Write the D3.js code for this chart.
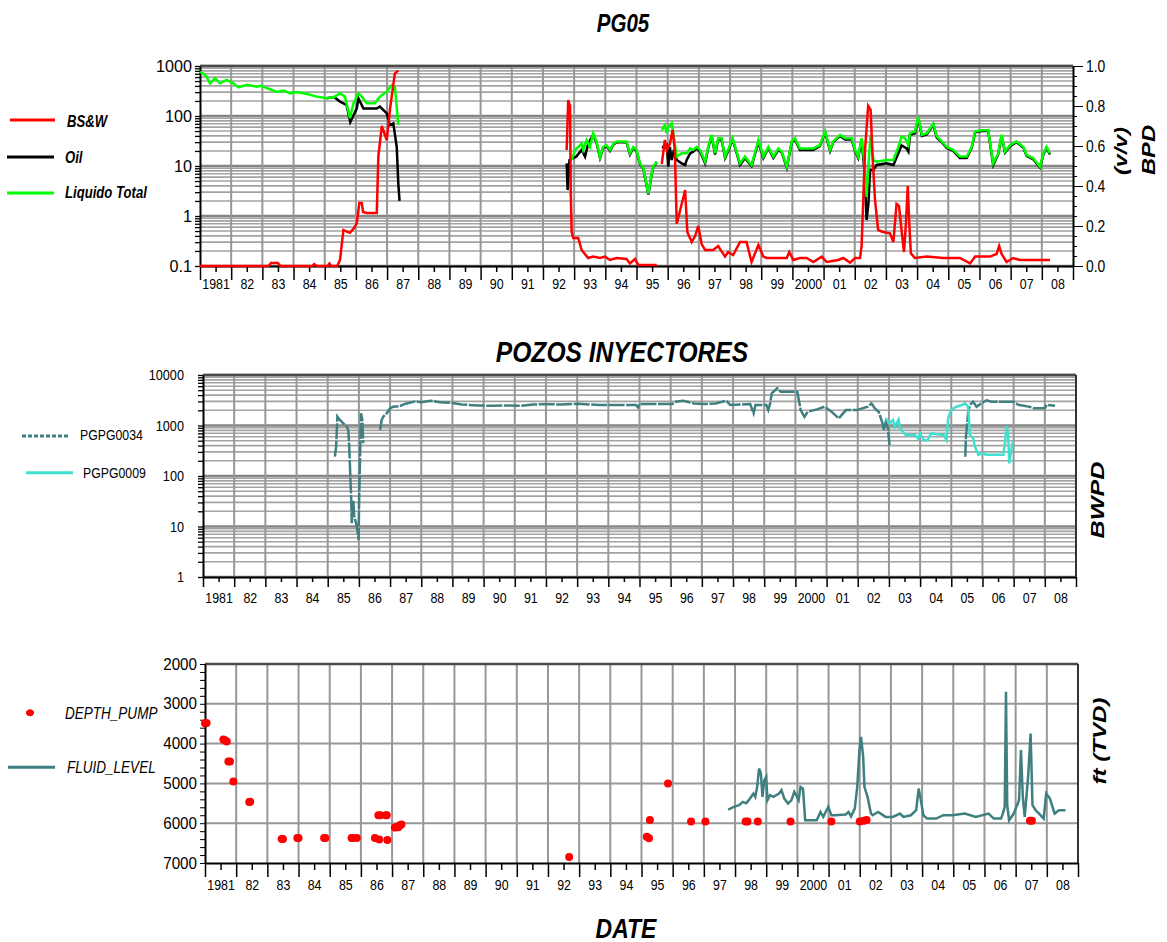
<!DOCTYPE html>
<html>
<head>
<meta charset="utf-8">
<script src="https://cdn.jsdelivr.net/npm/d3@7"></script>
<style>
  body { margin: 0; background: #fff; }
  svg text { font-family: "Liberation Sans", Arial, sans-serif; fill: #000; }
</style>
</head>
<body>
<svg id="svg" width="1167" height="942"></svg>
<script>
// ---- data ----
var yearLabels = ["1981","82","83","84","85","86","87","88","89","90","91","92","93","94",
  "95","96","97","98","99","2000","01","02","03","04","05","06","07","08"];
var yearDomain = [1981, 2009];

var p1LeftTicks = [0.1, 1, 10, 100, 1000];
var p1RightTicks = [0, 0.2, 0.4, 0.6, 0.8, 1.0];
var p2Ticks = [1, 10, 100, 1000, 10000];
var p3Ticks = [2000, 3000, 4000, 5000, 6000, 7000];

// BS&W (v/v), right axis. null = gap
var bswData = [
  [1981.00,0],[1983.20,0],[1983.28,0.015],[1983.50,0.015],[1983.58,0],[1984.60,0],[1984.66,0.01],
  [1984.76,0],[1985.10,0],[1985.15,0.012],[1985.22,0],[1985.40,0],[1985.49,0.03],[1985.60,0.18],
  [1985.81,0.166],[1985.94,0.19],[1986.03,0.215],[1986.11,0.315],[1986.19,0.315],[1986.23,0.27],
  [1986.35,0.265],[1986.67,0.265],[1986.72,0.547],[1986.83,0.70],[1986.99,0.63],[1987.09,0.78],
  [1987.25,0.963],[1987.36,0.977],
  [1990,null],
  [1992.76,0.58],[1992.81,0.83],[1992.87,0.80],[1992.89,0.38],[1992.92,0.17],[1992.97,0.14],
  [1993.13,0.14],[1993.24,0.08],[1993.45,0.04],[1993.61,0.047],[1993.83,0.04],[1993.99,0.047],
  [1994.15,0.03],[1994.36,0.04],[1994.68,0.035],[1994.79,0.013],[1994.95,0.035],[1995.06,0.005],
  [1995.65,0.005],
  [1995.7,null],
  [1995.81,0.51],[1995.91,0.63],[1995.97,0.58],[1996.07,0.61],[1996.16,0.68],[1996.23,0.58],
  [1996.29,0.21],[1996.37,0.26],[1996.56,0.38],[1996.63,0.17],[1996.77,0.12],[1996.88,0.15],
  [1996.98,0.20],[1997.09,0.11],[1997.20,0.08],[1997.46,0.08],[1997.62,0.10],[1997.84,0.047],
  [1997.94,0.07],[1998.10,0.055],[1998.32,0.12],[1998.53,0.12],[1998.69,0.02],[1998.91,0.105],
  [1999.07,0.047],[1999.17,0.04],[1999.82,0.04],[1999.90,0.07],[2000.03,0.03],[2000.24,0.04],
  [2000.46,0.04],[2000.67,0.02],[2000.94,0.047],[2001.10,0.02],[2001.47,0.03],[2001.63,0.04],
  [2001.85,0.017],[2002.01,0.04],[2002.17,0.04],[2002.22,0.10],[2002.33,0.58],[2002.43,0.80],
  [2002.51,0.78],[2002.57,0.55],[2002.65,0.33],[2002.75,0.18],[2002.91,0.17],[2003.13,0.163],
  [2003.24,0.12],[2003.34,0.31],[2003.42,0.30],[2003.50,0.18],[2003.58,0.07],[2003.64,0.21],
  [2003.70,0.40],[2003.75,0.21],[2003.80,0.063],[2003.93,0.04],[2004.31,0.047],[2004.84,0.04],
  [2005.37,0.04],[2005.70,0.013],[2005.86,0.047],[2006.34,0.047],[2006.55,0.06],[2006.63,0.10],
  [2006.71,0.06],[2006.87,0.02],[2007.08,0.04],[2007.30,0.03],[2008.26,0.03]
];

// Oil (BPD), left log axis
var oilData = [
  [1985.06,226],[1985.30,240],[1985.49,194],[1985.70,166],[1985.82,75],[1986.03,142],[1986.08,226],
  [1986.24,142],[1986.67,142],[1986.77,154],[1986.99,113],[1987.09,66],[1987.20,71],[1987.31,24],
  [1987.36,4.5],[1987.40,2.0],
  [1990,null],
  [1992.76,11.3],[1992.79,3.3],[1992.85,13.2],[1992.96,14.2],[1993.07,15.4],[1993.24,21],
  [1993.35,15.4],[1993.45,28],[1993.61,42],[1993.72,29],[1993.83,14.5],[1993.93,23],[1994.04,25],
  [1994.15,20],[1994.26,27],[1994.36,30],[1994.68,30],[1994.79,17],[1994.90,23],[1995.00,20],
  [1995.11,11],[1995.22,8.7],[1995.38,2.7],[1995.49,6.9],[1995.54,9.4],[1995.65,12],
  [1995.7,null],
  [1995.81,24],[1995.91,24],[1995.97,26],[1996.02,9.7],[1996.07,24],[1996.13,13.2],[1996.20,21],
  [1996.29,13.2],[1996.45,11.3],[1996.56,10.5],[1996.61,13.2],[1996.72,17.9],[1996.82,19.4],
  [1996.93,22.5],[1997.04,19.4],[1997.20,11.3],[1997.30,23],[1997.41,40],[1997.52,17],[1997.62,34],
  [1997.73,34],[1997.84,14.5],[1997.94,20],[1998.08,34],[1998.21,18.5],[1998.32,10.5],[1998.48,14.5],
  [1998.69,10],[1998.91,30],[1999.07,14.5],[1999.23,23],[1999.39,14.5],[1999.55,21],[1999.66,18.5],
  [1999.82,9.3],[1999.98,30],[2000.08,34],[2000.24,21],[2000.67,21],[2000.88,25],[2001.05,47],
  [2001.21,20],[2001.31,30],[2001.53,40],[2001.69,34],[2001.90,34],[2002.01,20],[2002.11,14.5],
  [2002.22,33],[2002.31,8.3],[2002.38,0.83],[2002.44,1.8],[2002.49,8.3],[2002.60,8.3],[2002.70,10.5],
  [2003.02,11.3],[2003.24,10.5],[2003.40,17.9],[2003.50,26],[2003.66,22.5],[2003.72,19.4],
  [2003.77,42],[2003.93,45],[2004.04,90],[2004.15,40],[2004.31,43],[2004.52,67],[2004.63,37],
  [2004.79,30],[2004.95,23],[2005.16,20],[2005.37,14.5],[2005.59,14.5],[2005.75,23],[2005.86,47],
  [2006.07,50],[2006.28,50],[2006.44,10.5],[2006.60,17],[2006.71,40],[2006.82,18.5],[2006.98,25],
  [2007.19,30],[2007.41,23],[2007.51,16],[2007.73,13.5],[2007.94,9.3],[2008.05,17],[2008.15,23],
  [2008.26,17]
];

// Liquido Total (BPD), left log axis
var liquidData = [
  [1981.00,770],[1981.10,700],[1981.21,612],[1981.32,450],[1981.48,567],[1981.64,450],[1981.86,525],
  [1981.96,486],[1982.07,450],[1982.23,374],[1982.50,420],[1982.82,386],[1982.95,400],[1983.14,360],
  [1983.46,307],[1983.70,320],[1983.89,284],[1984.10,300],[1984.31,284],[1984.50,270],[1984.74,244],
  [1985.06,226],[1985.30,240],[1985.49,284],[1985.65,244],[1985.81,90],[1985.92,179],[1986.08,284],
  [1986.19,244],[1986.35,179],[1986.61,179],[1986.77,244],[1986.99,307],[1987.15,417],[1987.25,386],
  [1987.36,66],
  [1990,null],
  [1992.92,13.2],[1993.03,21],[1993.13,24],[1993.24,28],[1993.29,21],[1993.40,33],[1993.51,24],
  [1993.61,45],[1993.72,31],[1993.83,15],[1993.93,24],[1994.04,26],[1994.15,21],[1994.26,28],
  [1994.36,31],[1994.68,31],[1994.79,18],[1994.90,24],[1995.00,21],[1995.11,11.3],[1995.22,9],
  [1995.38,2.8],[1995.49,7.1],[1995.54,9.7],[1995.65,12.2],
  [1995.7,null],
  [1995.81,52],[1995.91,66],[1995.97,45],[1996.02,61],[1996.13,71],[1996.18,45],[1996.29,15.4],
  [1996.45,17.9],[1996.61,17.9],[1996.72,22.5],[1996.82,21],[1996.93,24],[1997.04,21],[1997.20,12.2],
  [1997.30,24],[1997.41,42],[1997.52,17.9],[1997.62,36],[1997.73,36],[1997.84,15.4],[1997.94,21],
  [1998.08,36],[1998.21,19.4],[1998.32,11.3],[1998.48,15.4],[1998.69,10.5],[1998.91,33],[1999.07,15.4],
  [1999.23,24],[1999.39,15.4],[1999.55,22.5],[1999.66,19.4],[1999.82,9.7],[1999.98,31],[2000.08,36],
  [2000.24,22.5],[2000.67,22.5],[2000.88,26],[2001.05,49],[2001.21,21],[2001.31,31],[2001.53,42],
  [2001.69,36],[2001.90,36],[2002.01,21],[2002.11,15.4],[2002.22,36],[2002.31,11.3],[2002.38,2.4],
  [2002.47,21],[2002.51,42],[2002.60,13.2],[2002.70,12.2],[2003.02,13.2],[2003.24,13.2],[2003.40,24],
  [2003.50,39],[2003.61,36],[2003.72,26],[2003.77,45],[2003.93,49],[2004.04,97],[2004.15,42],
  [2004.31,45],[2004.52,71],[2004.63,39],[2004.79,31],[2004.95,24],[2005.16,21],[2005.37,15.4],
  [2005.59,15.4],[2005.75,24],[2005.86,49],[2006.07,52],[2006.28,52],[2006.44,11.3],[2006.60,17.9],
  [2006.71,42],[2006.82,19.4],[2006.98,26],[2007.19,31],[2007.41,24],[2007.51,16.6],[2007.73,14.2],
  [2007.94,9.7],[2008.05,17.9],[2008.15,24],[2008.26,17.9]
];

// PGPG0034 (BWPD)
var pg0034Data = [
  [1985.23,242],[1985.27,381],[1985.31,1496],[1985.39,1285],[1985.50,1104],[1985.61,948],[1985.66,815],
  [1985.69,381],[1985.71,178],[1985.75,39],[1985.77,11.6],[1985.82,33],[1985.85,15.7],[1985.91,11.6],
  [1985.95,8.5],[1985.99,5.4],[1986.01,39],[1986.04,281],[1986.07,1742],[1986.11,1285],[1986.14,444],
  [1986.4,null],
  [1986.68,815],[1986.73,1285],[1986.78,1496],[1986.89,1742],[1987.00,2188],[1987.10,2360],[1987.32,2430],
  [1987.50,2700],[1987.80,3000],[1988.00,2900],[1988.30,3100],[1988.60,2900],[1989.00,2800],[1989.30,2600],
  [1989.80,2500],[1990.30,2450],[1990.80,2500],[1991.20,2450],[1991.60,2600],[1992.00,2650],[1992.50,2600],
  [1993.00,2700],[1993.40,2600],[1993.73,2540],[1994.89,2540],[1994.95,2290],[1995.00,2660],[1996.05,2660],
  [1996.17,2960],[1996.40,3090],[1996.75,2740],[1997.10,2660],[1997.44,2740],[1997.79,3090],[1997.91,2540],
  [1998.55,2660],[1998.66,1740],[1998.72,2540],[1999.07,2540],[1999.13,2020],[1999.19,2740],[1999.24,4330],
  [1999.42,5450],[1999.53,4680],[2000.06,4680],[2000.11,3190],[2000.17,2020],[2000.29,1490],[2000.40,1875],
  [2000.69,2085],[2000.93,2355],[2001.16,1875],[2001.39,1380],[2001.62,2020],[2001.97,2020],[2002.32,2355],
  [2002.44,2740],[2002.55,2180],[2002.67,1875],[2002.78,1185],[2002.84,811],[2002.90,1185],[2002.96,944],
  [2003.02,409],
  [2004.0,null],
  [2005.45,240],[2005.47,600],[2005.51,1100],[2005.54,1860],[2005.60,2570],[2005.70,2950],[2005.81,2340],
  [2005.97,2750],[2006.13,3160],[2006.29,2950],[2006.99,2950],[2007.15,2570],[2007.52,2340],[2007.63,2190],
  [2008.00,2190],[2008.06,2570],[2008.33,2450]
];

// PGPG0009 (BWPD)
var pg0009Data = [
  [2002.90,1380],[2003.02,1100],[2003.13,1280],[2003.19,944],[2003.31,1320],[2003.36,875],[2003.54,646],
  [2003.83,646],[2003.94,555],[2004.00,697],[2004.12,513],[2004.24,513],[2004.35,697],[2004.76,646],
  [2004.85,513],[2004.90,1380],[2004.99,2020],[2005.16,2355],[2005.34,2540],[2005.44,2750],[2005.54,2340],
  [2005.60,646],[2005.70,560],[2005.76,380],[2005.81,324],[2005.87,263],[2005.97,282],[2006.13,263],
  [2006.67,263],[2006.72,447],[2006.78,977],[2006.82,708],[2006.86,178],[2006.91,282],[2006.97,479]
];

// DEPTH_PUMP (ft TVD)
var depthPumpData = [
  [1981.00,3490],[1981.05,3480],[1981.59,3900],[1981.65,3920],[1981.70,3950],[1981.75,4450],[1981.80,4450],
  [1981.91,4950],[1982.42,5470],[1982.45,5460],[1983.46,6400],[1983.50,6400],[1983.96,6370],[1984.00,6370],
  [1984.82,6370],[1984.86,6370],[1985.70,6370],[1985.74,6370],[1985.87,6370],[1986.45,6370],[1986.59,6410],
  [1986.56,5800],[1986.62,5800],[1986.80,5800],[1986.83,5800],[1986.85,6420],[1987.09,6110],[1987.15,6100],
  [1987.20,6100],[1987.25,6050],[1987.30,6030],[1992.68,6850],[1995.17,6340],[1995.24,6380],[1995.27,5920],
  [1995.85,5000],[1996.59,5960],[1997.05,5960],[1998.34,5960],[1998.40,5960],[1998.73,5960],[1999.78,5960],
  [2001.09,5960],[2002.00,5960],[2002.13,5940],[2002.22,5920],[2007.46,5940],[2007.52,5940]
];

// FLUID_LEVEL (ft TVD)
var fluidLevelData = [
  [1997.78,5658],[1997.96,5590],[1998.13,5549],[1998.25,5465],[1998.36,5500],[1998.48,5381],[1998.59,5255],
  [1998.65,5340],[1998.71,5087],[1998.77,4626],[1998.83,4752],[1998.88,5339],[1998.94,4919],[1999.00,4835],
  [1999.04,5423],[1999.12,5297],[1999.23,5340],[1999.41,5255],[1999.49,5171],[1999.58,5381],[1999.70,5507],
  [1999.81,5420],[1999.90,5213],[1999.99,5340],[2000.04,5420],[2000.10,5087],[2000.18,5130],[2000.25,5926],
  [2000.62,5926],[2000.74,5716],[2000.83,5840],[2000.99,5590],[2001.09,5800],[2001.20,5800],[2001.55,5780],
  [2001.64,5716],[2001.72,5830],[2001.84,5632],[2001.92,5087],[2001.99,4164],[2002.04,3829],[2002.11,4332],
  [2002.15,5087],[2002.25,5339],[2002.36,5758],[2002.42,5800],[2002.50,5758],[2002.59,5716],[2002.83,5842],
  [2003.06,5842],[2003.29,5758],[2003.40,5842],[2003.64,5800],[2003.81,5674],[2003.89,5129],[2003.96,5420],
  [2004.04,5800],[2004.16,5884],[2004.45,5884],[2004.68,5800],[2004.97,5800],[2005.37,5758],[2005.72,5842],
  [2006.13,5758],[2006.30,5884],[2006.53,5884],[2006.59,5758],[2006.65,5590],[2006.69,2696],[2006.73,5549],
  [2006.79,5926],[2006.94,5758],[2007.11,5423],[2007.17,4164],[2007.23,5340],[2007.29,5842],[2007.40,4835],
  [2007.48,3745],[2007.54,5549],[2007.64,5674],[2007.75,5758],[2007.90,5884],[2007.98,5255],[2008.10,5381],
  [2008.25,5758],[2008.39,5674],[2008.60,5674]
];

// ---- drawing ----
var svg = d3.select("#svg");
var gridColor = "#979797";
var teal = "#3f7f80";
var turquoise = "#40e0d0";
var NARROW = 0.82; // the reference fonts look horizontally squeezed

function isDecade(d) {
  var l = Math.log10(d);
  return Math.abs(l - Math.round(l)) < 1e-6;
}

// plain text with a horizontal squeeze
function addText(x, y, str, size, sx, anchor, weight, style) {
  return svg.append("text")
    .attr("transform", "translate(" + x + "," + y + ") scale(" + sx + ",1)")
    .attr("text-anchor", anchor || "start")
    .attr("font-size", size)
    .attr("font-weight", weight || "normal")
    .attr("font-style", style || "normal")
    .text(str);
}

function squeezeTicks(ax, sx, size) {
  ax.selectAll(".tick text").attr("font-size", size).each(function() {
    var t = d3.select(this);
    var x = +t.attr("x") || 0;
    t.attr("x", x / sx).attr("transform", "scale(" + sx + ",1)");
  });
}

function drawYearAxis(box, x, majorLen, minorLen, pad) {
  var majors = d3.range(yearDomain[0], yearDomain[1] + 1);
  var mids = yearLabels.map(function(d, i) { return yearDomain[0] + i + 0.5; });

  // vertical grid at year boundaries
  svg.append("g").selectAll("line").data(majors.slice(1, -1)).join("line")
    .attr("x1", function(d) { return x(d); }).attr("x2", function(d) { return x(d); })
    .attr("y1", box.y0).attr("y2", box.y1)
    .attr("stroke", gridColor).attr("stroke-width", 2);

  var ax = svg.append("g").attr("transform", "translate(0," + box.y1 + ")");
  ax.call(d3.axisBottom(x).tickValues(majors).tickSize(majorLen).tickSizeOuter(0).tickFormat(""));
  ax.select(".domain").attr("stroke-width", 2);
  ax.selectAll(".tick line").attr("stroke-width", 1.5);

  var ax2 = svg.append("g").attr("transform", "translate(0," + box.y1 + ")");
  ax2.call(d3.axisBottom(x).tickValues(mids).tickSize(minorLen).tickPadding(pad)
    .tickFormat(function(d, i) { return yearLabels[i]; }));
  ax2.select(".domain").remove();
  ax2.selectAll(".tick line").attr("stroke-width", 1.5);
  squeezeTicks(ax2, 0.8, 15.5);
}

function drawLogGrid(box, y) {
  svg.append("g").selectAll("line").data(y.ticks()).join("line")
    .attr("x1", box.x0).attr("x2", box.x1)
    .attr("y1", function(d) { return y(d); }).attr("y2", function(d) { return y(d); })
    .attr("stroke", function(d) { return isDecade(d) ? "#858585" : "#a3a3a3"; })
    .attr("stroke-width", function(d) { return isDecade(d) ? 2.5 : 1.6; });
}

function drawFrame(box, withRight) {
  svg.append("line").attr("x1", box.x0).attr("x2", box.x1).attr("y1", box.y0).attr("y2", box.y0)
    .attr("stroke", "#4a4a4a").attr("stroke-width", 2.5);
  if (withRight) {
    svg.append("line").attr("x1", box.x1).attr("x2", box.x1).attr("y1", box.y0).attr("y2", box.y1)
      .attr("stroke", "#333").attr("stroke-width", 2);
  }
}

function drawLogLeftAxis(box, y, pad, fontSize, sx) {
  var ax = svg.append("g").attr("transform", "translate(" + box.x0 + ",0)");
  ax.call(d3.axisLeft(y).tickValues(y.ticks()).tickSize(5).tickSizeOuter(0).tickPadding(pad)
    .tickFormat(function(d) { return isDecade(d) ? String(+d.toPrecision(3)) : ""; }));
  ax.select(".domain").attr("stroke-width", 2);
  ax.selectAll(".tick line").attr("stroke-width", 1.3);
  squeezeTicks(ax, sx, fontSize);
}

function legendLine(x1, x2, yy, color, dash) {
  svg.append("line").attr("x1", x1).attr("x2", x2).attr("y1", yy).attr("y2", yy)
    .attr("stroke", color).attr("stroke-width", 3).attr("stroke-dasharray", dash || null);
}

function rotatedLabel(cx, cy, label, size, len) {
  svg.append("text")
    .attr("transform", "translate(" + cx + "," + cy + ") rotate(-90)")
    .attr("text-anchor", "middle").attr("dy", "0.35em")
    .attr("font-size", size).attr("font-weight", "bold").attr("font-style", "italic")
    .attr("textLength", len).attr("lengthAdjust", "spacingAndGlyphs")
    .text(label);
}

// ===== Panel 1: PG05 =====
var box1 = { x0: 200, x1: 1073, y0: 66, y1: 266 };
var x1 = d3.scaleLinear().domain(yearDomain).range([box1.x0, box1.x1]);
var y1 = d3.scaleLog().domain([p1LeftTicks[0], p1LeftTicks[p1LeftTicks.length - 1]]).range([box1.y1, box1.y0]);
var y1r = d3.scaleLinear().domain([p1RightTicks[0], p1RightTicks[p1RightTicks.length - 1]]).range([box1.y1, box1.y0]);

drawLogGrid(box1, y1);
drawYearAxis(box1, x1, 14, 6, 6);
drawFrame(box1, false);
drawLogLeftAxis(box1, y1, 3, 17, 0.95);

var rax = svg.append("g").attr("transform", "translate(" + box1.x1 + ",0)");
rax.call(d3.axisRight(y1r).tickValues(d3.range(0, 1.0001, 0.05)).tickSize(4).tickSizeOuter(0).tickFormat(""));
rax.select(".domain").attr("stroke-width", 2);
var rax2 = svg.append("g").attr("transform", "translate(" + box1.x1 + ",0)");
rax2.call(d3.axisRight(y1r).tickValues(p1RightTicks).tickSize(10).tickPadding(3).tickFormat(d3.format(".1f")));
rax2.select(".domain").remove();
squeezeTicks(rax2, NARROW, 17);

var line1 = d3.line().defined(function(d) { return d[1] !== null; })
  .x(function(d) { return x1(d[0]); }).y(function(d) { return y1(d[1]); });
var line1r = d3.line().defined(function(d) { return d[1] !== null; })
  .x(function(d) { return x1(d[0]); }).y(function(d) { return y1r(d[1]); });

svg.append("path").attr("d", line1(oilData)).attr("fill", "none").attr("stroke", "#000").attr("stroke-width", 2.5);
svg.append("path").attr("d", line1(liquidData)).attr("fill", "none").attr("stroke", "#00ff00").attr("stroke-width", 2.5);
svg.append("path").attr("d", line1r(bswData)).attr("fill", "none").attr("stroke", "#ff0000").attr("stroke-width", 2.5);

addText(623, 32, "PG05", 25, NARROW, "middle", "bold", "italic");
rotatedLabel(1121, 151, "(v/v)", 18, 48);
rotatedLabel(1149, 150, "BPD", 18, 50);

legendLine(10, 55, 120, "#ff0000");
addText(67, 127, "BS&W", 16, NARROW, "start", "bold", "italic");
legendLine(7, 54, 157, "#000");
addText(65, 163, "Oil", 16, NARROW, "start", "bold", "italic");
legendLine(7, 54, 193, "#00ff00");
addText(65, 198, "Liquido Total", 16, NARROW, "start", "bold", "italic");

// ===== Panel 2: POZOS INYECTORES =====
var box2 = { x0: 203, x1: 1076, y0: 375, y1: 577 };
var x2 = d3.scaleLinear().domain(yearDomain).range([box2.x0, box2.x1]);
var y2 = d3.scaleLog().domain([p2Ticks[0], p2Ticks[p2Ticks.length - 1]]).range([box2.y1, box2.y0]);

drawLogGrid(box2, y2);
drawYearAxis(box2, x2, 10, 5, 10);
drawFrame(box2, true);
drawLogLeftAxis(box2, y2, 14, 15.5, NARROW);

var line2 = d3.line().defined(function(d) { return d[1] !== null; })
  .x(function(d) { return x2(d[0]); }).y(function(d) { return y2(d[1]); });
svg.append("path").attr("d", line2(pg0034Data)).attr("fill", "none").attr("stroke", teal)
  .attr("stroke-width", 2.5).attr("stroke-dasharray", "16,1.5");
svg.append("path").attr("d", line2(pg0009Data)).attr("fill", "none").attr("stroke", turquoise).attr("stroke-width", 2.5);

addText(622, 362, "POZOS INYECTORES", 30, NARROW, "middle", "bold", "italic");
rotatedLabel(1098, 500, "BWPD", 18.5, 77);

legendLine(22, 70, 436, teal, "4,2");
addText(80, 440, "PGPG0034", 15, NARROW);
legendLine(26, 73, 472.7, turquoise);
addText(83, 478, "PGPG0009", 15, NARROW);

// ===== Panel 3: depth =====
var box3 = { x0: 205, x1: 1078, y0: 664, y1: 863 };
var x3 = d3.scaleLinear().domain(yearDomain).range([box3.x0, box3.x1]);
var y3 = d3.scaleLinear().domain([p3Ticks[0], p3Ticks[p3Ticks.length - 1]]).range([box3.y0, box3.y1]);

svg.append("g").selectAll("line").data(p3Ticks.slice(1, -1)).join("line")
  .attr("x1", box3.x0).attr("x2", box3.x1)
  .attr("y1", function(d) { return y3(d); }).attr("y2", function(d) { return y3(d); })
  .attr("stroke", gridColor).attr("stroke-width", 2);
drawYearAxis(box3, x3, 14, 7, 9);
drawFrame(box3, true);

var lax = svg.append("g").attr("transform", "translate(" + box3.x0 + ",0)");
lax.call(d3.axisLeft(y3).tickValues(d3.range(2000, 7001, 200)).tickSize(5).tickSizeOuter(0)
  .tickPadding(3).tickFormat(function(d) { return p3Ticks.indexOf(d) >= 0 ? d : ""; }));
lax.select(".domain").attr("stroke-width", 2);
squeezeTicks(lax, 0.95, 16);

var line3 = d3.line().x(function(d) { return x3(d[0]); }).y(function(d) { return y3(d[1]); });
svg.append("path").attr("d", line3(fluidLevelData)).attr("fill", "none").attr("stroke", teal).attr("stroke-width", 2.5);
svg.append("g").selectAll("circle").data(depthPumpData).join("circle")
  .attr("cx", function(d) { return x3(d[0]); }).attr("cy", function(d) { return y3(d[1]); })
  .attr("r", 4).attr("fill", "#ff0000");

rotatedLabel(1100, 741, "ft (TVD)", 18, 87);

svg.append("line").attr("x1", 26).attr("x2", 34).attr("y1", 712.7).attr("y2", 712.7)
  .attr("stroke", "#ff0000").attr("stroke-width", 3);
svg.append("circle").attr("cx", 30).attr("cy", 712.7).attr("r", 3.5).attr("fill", "#ff0000");
addText(65, 719, "DEPTH_PUMP", 16.5, NARROW, "start", "normal", "italic");
legendLine(8, 55, 767.3, teal);
addText(67, 773, "FLUID_LEVEL", 16.5, NARROW, "start", "normal", "italic");

addText(626, 938, "DATE", 28, NARROW, "middle", "bold", "italic");
</script>
</body>
</html>
